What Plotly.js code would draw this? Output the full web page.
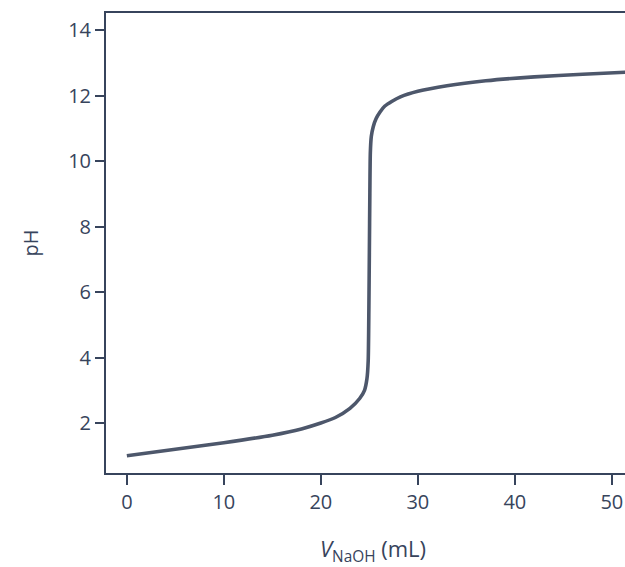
<!DOCTYPE html>
<html>
<head>
<meta charset="utf-8">
<script src="https://cdn.plot.ly/plotly-3.0.1.min.js"></script>
<style>
html,body{margin:0;padding:0;overflow:hidden;background:#fff;}
#chart{width:660px;height:567px;}
</style>
</head>
<body>
<div id="chart"></div>
<script>
const volumeNaOH = [0, 5, 10, 15, 18, 20, 21.5, 23, 24, 24.5, 24.75, 24.88, 24.95, 25.0, 25.05, 25.1, 25.2, 25.4, 25.7, 26.1, 26.6, 27.3, 28.2, 30, 33, 37, 42, 47, 52.9];
const pHValues   = [1.0, 1.2, 1.4, 1.63, 1.82, 2.0, 2.17, 2.45, 2.75, 3.0, 3.35, 3.9, 5.5, 7.2, 9.0, 10.25, 10.75, 11.05, 11.3, 11.5, 11.68, 11.82, 11.96, 12.13, 12.3, 12.45, 12.57, 12.65, 12.73];
const xTicks = [0, 10, 20, 30, 40, 50];
const yTicks = [2, 4, 6, 8, 10, 12, 14];

const ink = '#37445c';
const fontFam = '"Open Sans", "Liberation Sans", sans-serif';

Plotly.newPlot('chart', [{
  x: volumeNaOH,
  y: pHValues,
  type: 'scatter',
  mode: 'lines',
  line: {color: '#4d576b', width: 3.6, shape: 'spline', smoothing: 0.6},
  hoverinfo: 'skip'
}], {
  width: 660,
  height: 567,
  margin: {l: 106, r: 20, t: 13, b: 94},
  paper_bgcolor: '#fff',
  plot_bgcolor: '#fff',
  showlegend: false,
  font: {family: fontFam, color: ink, size: 20},
  xaxis: {
    range: [-2.15, 52.9],
    tickvals: xTicks,
    ticktext: xTicks.map(String),
    ticks: 'outside', ticklen: 10, tickwidth: 2, tickcolor: ink,
    showline: true, linecolor: ink, linewidth: 2, mirror: true,
    showgrid: false, zeroline: false,
    tickfont: {family: fontFam, size: 20, color: ink},
    title: {text: '<i>V</i><sub>NaOH</sub> (mL)', font: {family: fontFam, size: 22, color: ink}, standoff: 30}
  },
  yaxis: {
    range: [0.475, 14.52],
    tickvals: yTicks,
    ticktext: yTicks.map(String),
    ticks: 'outside', ticklen: 9, tickwidth: 2, tickcolor: ink,
    showline: true, linecolor: ink, linewidth: 2, mirror: true,
    showgrid: false, zeroline: false,
    tickfont: {family: fontFam, size: 20, color: ink},
    title: {text: 'pH', font: {family: fontFam, size: 20, color: ink}, standoff: 24}
  }
}, {staticPlot: true});
</script>
</body>
</html>
